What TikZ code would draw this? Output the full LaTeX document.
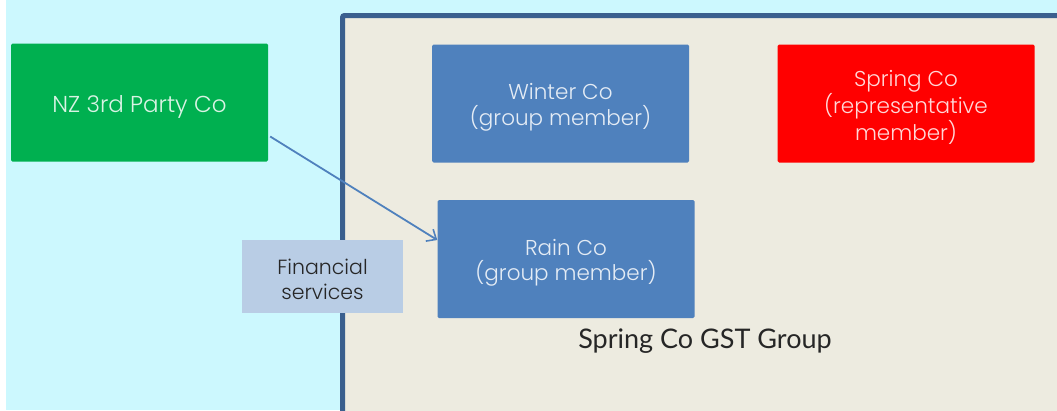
\documentclass[tikz,border=0pt]{standalone}
\usepackage{fontspec}
\setmainfont{Poppins Light}
\newfontfamily\captionfont{Lato}
\usetikzlibrary{arrows.meta}
\definecolor{skybg}{HTML}{CCF8FE}
\definecolor{groupfill}{HTML}{EDEBE0}
\definecolor{groupedge}{HTML}{3A5F8E}
\definecolor{memberblue}{HTML}{4F81BD}
\definecolor{thirdgreen}{HTML}{00B050}
\definecolor{repred}{HTML}{FF0000}
\definecolor{servicefill}{HTML}{B9CDE5}
\definecolor{darktext}{HTML}{262626}
\tikzset{
  company/.style={rounded corners=1.5pt, minimum width=257pt, minimum height=118pt, inner sep=0pt},
  boxtext/.style={text=white, text opacity=0.85, align=center, inner sep=0pt,
    font=\fontsize{21.5}{25.5}\selectfont, yshift=-4pt},
  flow/.style={draw=memberblue, line width=1.8pt, -{Straight Barb[length=8pt,width=14pt,line width=1.6pt]}},
}
\begin{document}
\begin{tikzpicture}[x=1pt,y=-1pt]
  \useasboundingbox (0,0) rectangle (1057,410);
  % page background
  \fill[white] (0,0) rectangle (1057,410);
  \fill[skybg] (6,0) rectangle (1057,410);
  % GST group frame
  \draw[groupedge, fill=groupfill, line width=5pt, rounded corners=2pt]
    (342.5,15.5) rectangle (1080,430);
  % companies
  \node[company, fill=thirdgreen,
    label={[boxtext, font=\fontsize{23}{27}\selectfont]center:{NZ 3rd Party Co}}] (nz) at (139.5,102.5) {};
  \node[company, fill=memberblue,
    label={[boxtext]center:{Winter Co\\(group member)}}] (winter) at (560.5,103.5) {};
  \node[company, fill=repred,
    label={[boxtext]center:{Spring Co\\(representative\\member)}}] (spring) at (906,103.5) {};
  \node[company, fill=memberblue,
    label={[boxtext]center:{Rain Co\\(group member)}}] (rain) at (566,259) {};
  % service label
  \node[fill=servicefill, minimum width=161pt, minimum height=73pt, inner sep=0pt,
    label={[boxtext, text=darktext, text opacity=1, font=\fontsize{20.5}{25}\selectfont, yshift=1pt]center:{Financial\\services}}]
    (fin) at (322.5,276.5) {};
  % group caption
  \node[text=darktext, font=\captionfont\fontsize{27}{30}\selectfont] (grp) at (705,341) {Spring Co GST Group};
  % supply arrow
  \coordinate (src) at ([yshift=-34pt]nz.east);
  \draw[flow] ([xshift=2pt]src) -- ([yshift=19pt]rain.west);
\end{tikzpicture}
\end{document}
